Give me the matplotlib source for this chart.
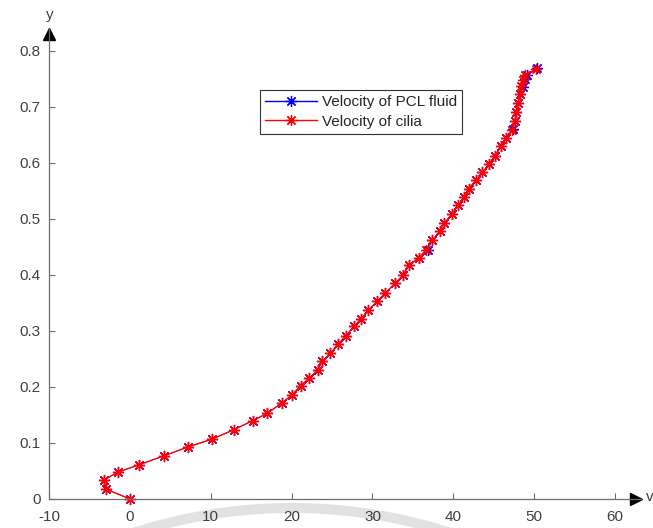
import numpy as np
import matplotlib
import matplotlib.pyplot as plt
from matplotlib.patches import Arc
from matplotlib.transforms import IdentityTransform

matplotlib.use("Agg")

plt.rcParams['font.family'] = ['Liberation Sans', 'DejaVu Sans']
plt.rcParams['axes.unicode_minus'] = False

# velocity (x) against height (y) for the cilia and the PCL fluid
y_cilia = [0.000, 0.018, 0.034, 0.048, 0.061, 0.077, 0.093, 0.107, 0.124, 0.140,
           0.153, 0.171, 0.185, 0.202, 0.216, 0.230, 0.246, 0.260, 0.276, 0.291,
           0.308, 0.322, 0.337, 0.353, 0.368, 0.385, 0.400, 0.417, 0.431, 0.445,
           0.462, 0.478, 0.493, 0.508, 0.524, 0.539, 0.554, 0.569, 0.583, 0.598,
           0.613, 0.630, 0.645, 0.659, 0.674, 0.690, 0.707, 0.723, 0.737, 0.748,
           0.756, 0.768]
v_cilia = [0.0, -3.0, -3.2, -1.45, 1.1, 4.2, 7.2, 10.2, 12.9, 15.2,
           17.0, 18.75, 20.0, 21.1, 22.2, 23.2, 23.8, 24.8, 25.7, 26.7,
           27.7, 28.6, 29.5, 30.6, 31.6, 32.8, 33.8, 34.5, 35.8, 36.6,
           37.4, 38.3, 38.9, 39.8, 40.6, 41.3, 41.9, 42.8, 43.6, 44.4,
           45.2, 45.9, 46.5, 47.2, 47.6, 47.8, 48.0, 48.2, 48.4, 48.6,
           48.9, 50.2]

y_fluid = [0.000, 0.018, 0.034, 0.048, 0.061, 0.077, 0.093, 0.107, 0.124, 0.140,
           0.153, 0.171, 0.185, 0.202, 0.216, 0.230, 0.246, 0.260, 0.276, 0.291,
           0.308, 0.322, 0.337, 0.353, 0.368, 0.385, 0.400, 0.417, 0.431, 0.444,
           0.462, 0.478, 0.493, 0.508, 0.524, 0.539, 0.554, 0.569, 0.583, 0.598,
           0.613, 0.630, 0.645, 0.661, 0.674, 0.690, 0.707, 0.723, 0.735, 0.750,
           0.757, 0.769]
v_fluid = [0.0, -3.0, -3.2, -1.45, 1.1, 4.2, 7.2, 10.2, 12.9, 15.2,
           17.0, 18.75, 20.0, 21.1, 22.2, 23.2, 23.8, 24.8, 25.7, 26.7,
           27.7, 28.6, 29.5, 30.6, 31.6, 32.8, 33.8, 34.5, 35.8, 36.85,
           37.4, 38.3, 38.9, 39.8, 40.6, 41.3, 41.9, 42.8, 43.6, 44.4,
           45.2, 45.9, 46.5, 47.4, 47.6, 47.8, 48.0, 48.2, 48.6, 48.9,
           49.1, 50.4]

x_ticks = [-10, 0, 10, 20, 30, 40, 50, 60]
y_ticks = [0, 0.1, 0.2, 0.3, 0.4, 0.5, 0.6, 0.7, 0.8]

W, H = 653, 528
fig = plt.figure(figsize=(W / 100, H / 100), dpi=100)
ax = fig.add_axes([49 / W, 1 - 499 / H, (641 - 49) / W, (499 - 29) / H])
ax.patch.set_alpha(0)

asterisk = (8, 2, 0)
ax.plot(v_fluid, y_fluid, color='#0000ff', lw=0.5, marker=asterisk, ms=8, mew=0.9,
        label='Velocity of PCL fluid', clip_on=False)
ax.plot(v_cilia, y_cilia, color='#ff0000', lw=1.0, marker=asterisk, ms=8, mew=0.9,
        label='Velocity of cilia', clip_on=False)

ax.set_xlim(-10, 63.2)
ax.set_ylim(0, 0.839)
ax.set_xticks(x_ticks)
ax.set_yticks(y_ticks)
ax.set_yticklabels(['0', '0.1', '0.2', '0.3', '0.4', '0.5', '0.6', '0.7', '0.8'])

for side in ('top', 'right'):
    ax.spines[side].set_visible(False)
for side in ('left', 'bottom'):
    ax.spines[side].set_color('#6e6e6e')
    ax.spines[side].set_linewidth(0.9)
ax.tick_params(direction='in', length=4, width=0.8, color='#6e6e6e',
               labelcolor='#404040', labelsize=11)
ax.tick_params(axis='x', pad=8)
ax.tick_params(axis='y', pad=6)

# arrow heads at the ends of both axes
ax.plot(0.9916, 0, marker='>', color='k', ms=8, transform=ax.transAxes, clip_on=False)
ax.plot(0, 0.9904, marker='^', color='k', ms=8, transform=ax.transAxes, clip_on=False)
fig.text(50 / W, 1 - 15 / H, 'y', ha='center', va='center', fontsize=11, color='#404040')
fig.text(646 / W, 1 - 497 / H, 'v', ha='left', va='center', fontsize=11, color='#404040')

leg = ax.legend(loc='upper left', bbox_to_anchor=(260 / W, 1 - 90 / H),
                bbox_transform=fig.transFigure, fontsize=11, handlelength=3.4,
                handletextpad=0.3, borderpad=0.35, labelspacing=0.35,
                borderaxespad=0, fancybox=False, framealpha=1)
leg.get_frame().set_edgecolor('#333333')
leg.get_frame().set_linewidth(0.8)
for t in leg.get_texts():
    t.set_color('#262626')
for line in leg.get_lines():
    line.set_linewidth(1.0)

# faint grey arc under the x axis
arc = Arc((292, H - 1027), 2 * 519, 2 * 519, theta1=60, theta2=120,
          transform=IdentityTransform(), color='#e2e2e2', lw=7.2, zorder=-1)
fig.add_artist(arc)

fig.savefig("out.png", dpi=100)
